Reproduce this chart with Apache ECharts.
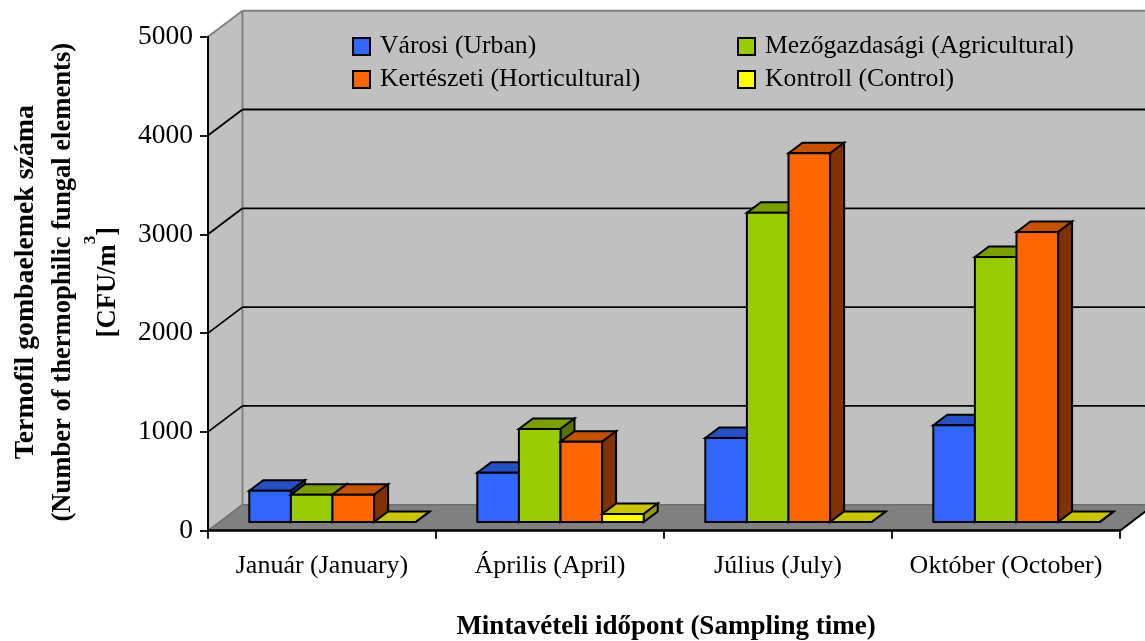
<!DOCTYPE html>
<html><head><meta charset="utf-8">
<style>html,body{margin:0;padding:0;background:#fff;overflow:hidden}#c{width:1145px;height:641px}</style>
<script src="https://cdn.jsdelivr.net/npm/echarts@6/dist/echarts.min.js"></script>
</head><body><div id="c"></div>
<script>
const categories = ['Január (January)', 'Április (April)', 'Július (July)', 'Október (October)'];
const urban = [317, 499, 850, 979];
const agricultural = [276, 941, 3131, 2682];
const horticultural = [276, 813, 3732, 2935];
const control = [0, 81, 0, 0];
const ticks = [0, 1000, 2000, 3000, 4000, 5000];
const seriesNames = ['Városi (Urban)', 'Mezőgazdasági (Agricultural)', 'Kertészeti (Horticultural)', 'Kontroll (Control)'];
const faceColors = ['#3366FF', '#99CC00', '#FF6600', '#FFFF00'];
const topColors = ['#2850C4', '#7A9E00', '#C45200', '#C8C400'];
const sideColors = ['#1A3380', '#557200', '#803300', '#999900'];

const FONT = '"Liberation Serif","Times New Roman",serif';
const WALL = [34.5, -26];       // depth of the chart box
const FLOOR_INSET = [11.6, -8.7]; // front plane of the bars
const BAR_DEPTH = [14, -10.5];
const BAR_W = 41.6, BAR_GAP_LEFT = 29.7;

const poly = (pts, fill, stroke, lw) => ({
  type: 'polygon', shape: { points: pts },
  style: { fill, stroke: stroke || 'none', lineWidth: lw || 0, lineJoin: 'miter' }
});
const line = (a, b, stroke, lw) => ({
  type: 'line', shape: { x1: a[0], y1: a[1], x2: b[0], y2: b[1] },
  style: { stroke, lineWidth: lw, fill: 'none' }
});
const shift = (p, d) => [p[0] + d[0], p[1] + d[1]];

function renderBox(api, params) {
  const n = categories.length;
  const a = api.coord([0, 0]), hw = api.size([1, 0])[0] / 2;
  const t = api.coord([0, ticks[ticks.length - 1]]);
  const l0 = [a[0] - hw, a[1]], l1 = [a[0] - hw, t[1]];
  const r0 = [api.coord([n - 1, 0])[0] + hw, a[1]];
  const bl0 = shift(l0, WALL), bl1 = shift(l1, WALL), br0 = shift(r0, WALL);
  const br1 = [br0[0], bl1[1]];
  return { type: 'group', children: [
    poly([l0, l1, bl1, bl0], '#C0C0C0'),
    poly([bl0, bl1, br1, br0], '#C0C0C0'),
    poly([l0, r0, br0, bl0], '#808080'),
    line(l1, bl1, '#808080', 2),
    line(bl1, br1, '#808080', 2),
    line(bl1, bl0, '#808080', 2),
    line(bl0, br0, '#6E6E6E', 1.5),
    line(l0, bl0, '#6E6E6E', 1.5),
    line(r0, br0, '#000000', 2)
  ]};
}
function renderGrid(api) {
  const v = api.value(0);
  const n = categories.length;
  const c = api.coord([0, v]), hw = api.size([1, 0])[0] / 2;
  const l = [c[0] - hw, c[1]], r = [api.coord([n - 1, v])[0] + hw, c[1]];
  return { type: 'group', children: [
    line(l, shift(l, WALL), '#000', 1.8),
    line(shift(l, WALL), shift(r, WALL), '#000', 1.8)
  ]};
}
function barRenderer(i) {
  return function (api) {
    const cat = api.value(0), val = api.value(1);
    const c0 = api.coord([cat, 0]), c1 = api.coord([cat, val]);
    const band = api.size([1, 0])[0];
    const x0 = c0[0] - band / 2 + BAR_GAP_LEFT + FLOOR_INSET[0] + i * BAR_W;
    const y0 = c0[1] + FLOOR_INSET[1], y1 = c1[1] + FLOOR_INSET[1];
    const A = [x0, y0], B = [x0 + BAR_W, y0], C = [x0 + BAR_W, y1], D = [x0, y1];
    const k = '#000', w = 2;
    return { type: 'group', children: [
      poly([D, C, shift(C, BAR_DEPTH), shift(D, BAR_DEPTH)], topColors[i], k, w),
      poly([B, C, shift(C, BAR_DEPTH), shift(B, BAR_DEPTH)], sideColors[i], k, w),
      poly([A, B, C, D], faceColors[i], k, w)
    ]};
  };
}
const valuesBySeries = [urban, agricultural, horticultural, control];
const textRich = {
  a: { fontFamily: FONT, fontWeight: 'bold', fontSize: 27.8, lineHeight: 38, color: '#000' },
  b: { fontFamily: FONT, fontWeight: 'bold', fontSize: 26.6, lineHeight: 38, color: '#000' },
  c: { fontFamily: FONT, fontWeight: 'bold', fontSize: 26.6, lineHeight: 52, color: '#000' },
  s: { fontFamily: FONT, fontWeight: 'bold', fontSize: 17, lineHeight: 18, color: '#000', verticalAlign: 'top' }
};
const legendBase = { orient: 'vertical', top: 28.5, itemGap: 7, itemWidth: 17, itemHeight: 17, icon: 'rect', selectedMode: false,
  textStyle: { fontFamily: FONT, fontSize: 25.7, color: '#000', padding: [0, 0, 0, 5] } };
const chart = echarts.init(document.getElementById('c'), null, { renderer: 'canvas' });
chart.setOption({
  animation: false,
  backgroundColor: '#fff',
  grid: { left: 208, right: 25, top: 36.7, bottom: 110.3, outerBoundsMode: 'none', containLabel: false },
  legend: [
    Object.assign({}, legendBase, { data: [seriesNames[0], seriesNames[2]], left: 347 }),
    Object.assign({}, legendBase, { data: [seriesNames[1], seriesNames[3]], left: 732 })
  ],
  xAxis: {
    type: 'category', data: categories, z: 6,
    boundaryGap: true,
    axisLine: { lineStyle: { color: '#000', width: 2.5 } },
    axisTick: { show: true, length: 8, lineStyle: { color: '#000', width: 1.8 }, alignWithLabel: false },
    axisLabel: { fontFamily: FONT, fontSize: 26, color: '#000', margin: 22, interval: 0 },
    name: 'Mintavételi időpont (Sampling time)', nameLocation: 'middle', nameGap: 83,
    nameTextStyle: { fontFamily: FONT, fontWeight: 'bold', fontSize: 27, color: '#000', padding: [0, 0, 0, 4] }
  },
  yAxis: {
    type: 'value', min: 0, max: 5000, interval: 1000, z: 6,
    axisLine: { show: true, lineStyle: { color: '#000', width: 2 } },
    axisTick: { show: true, length: 8, lineStyle: { color: '#000', width: 1.8 } },
    axisLabel: { fontFamily: FONT, fontSize: 27.5, color: '#000', margin: 15, formatter: v => String(v) },
    splitLine: { show: false },
    name: '{a|Termofil gombaelemek száma}\n{b|(Number of thermophilic fungal elements)}\n{c|[CFU/m}{s|3}{c|]}',
    nameLocation: 'middle', nameGap: 73.5, nameRotate: 90,
    nameTextStyle: { rich: textRich, padding: [0, 0, 0, 3] }
  },
  series: [
    { type: 'custom', name: 'box', coordinateSystem: 'cartesian2d', clip: false, z: 1, silent: true,
      data: [[0]], renderItem: (p, api) => renderBox(api, p) },
    { type: 'custom', name: 'grid', coordinateSystem: 'cartesian2d', clip: false, z: 1, silent: true,
      data: ticks.slice(1, -1).map(v => [v]), encode: { y: 0 }, renderItem: (p, api) => renderGrid(api) }
  ].concat(seriesNames.map((name, i) => ({
    type: 'custom', name, coordinateSystem: 'cartesian2d', clip: false, z: 2, silent: true,
    itemStyle: { color: faceColors[i], borderColor: '#000', borderWidth: 2 },
    encode: { x: 0, y: 1 },
    data: valuesBySeries[i].map((v, k) => [k, v]),
    renderItem: (p, api) => barRenderer(i)(api)
  })))
});
</script></body></html>
